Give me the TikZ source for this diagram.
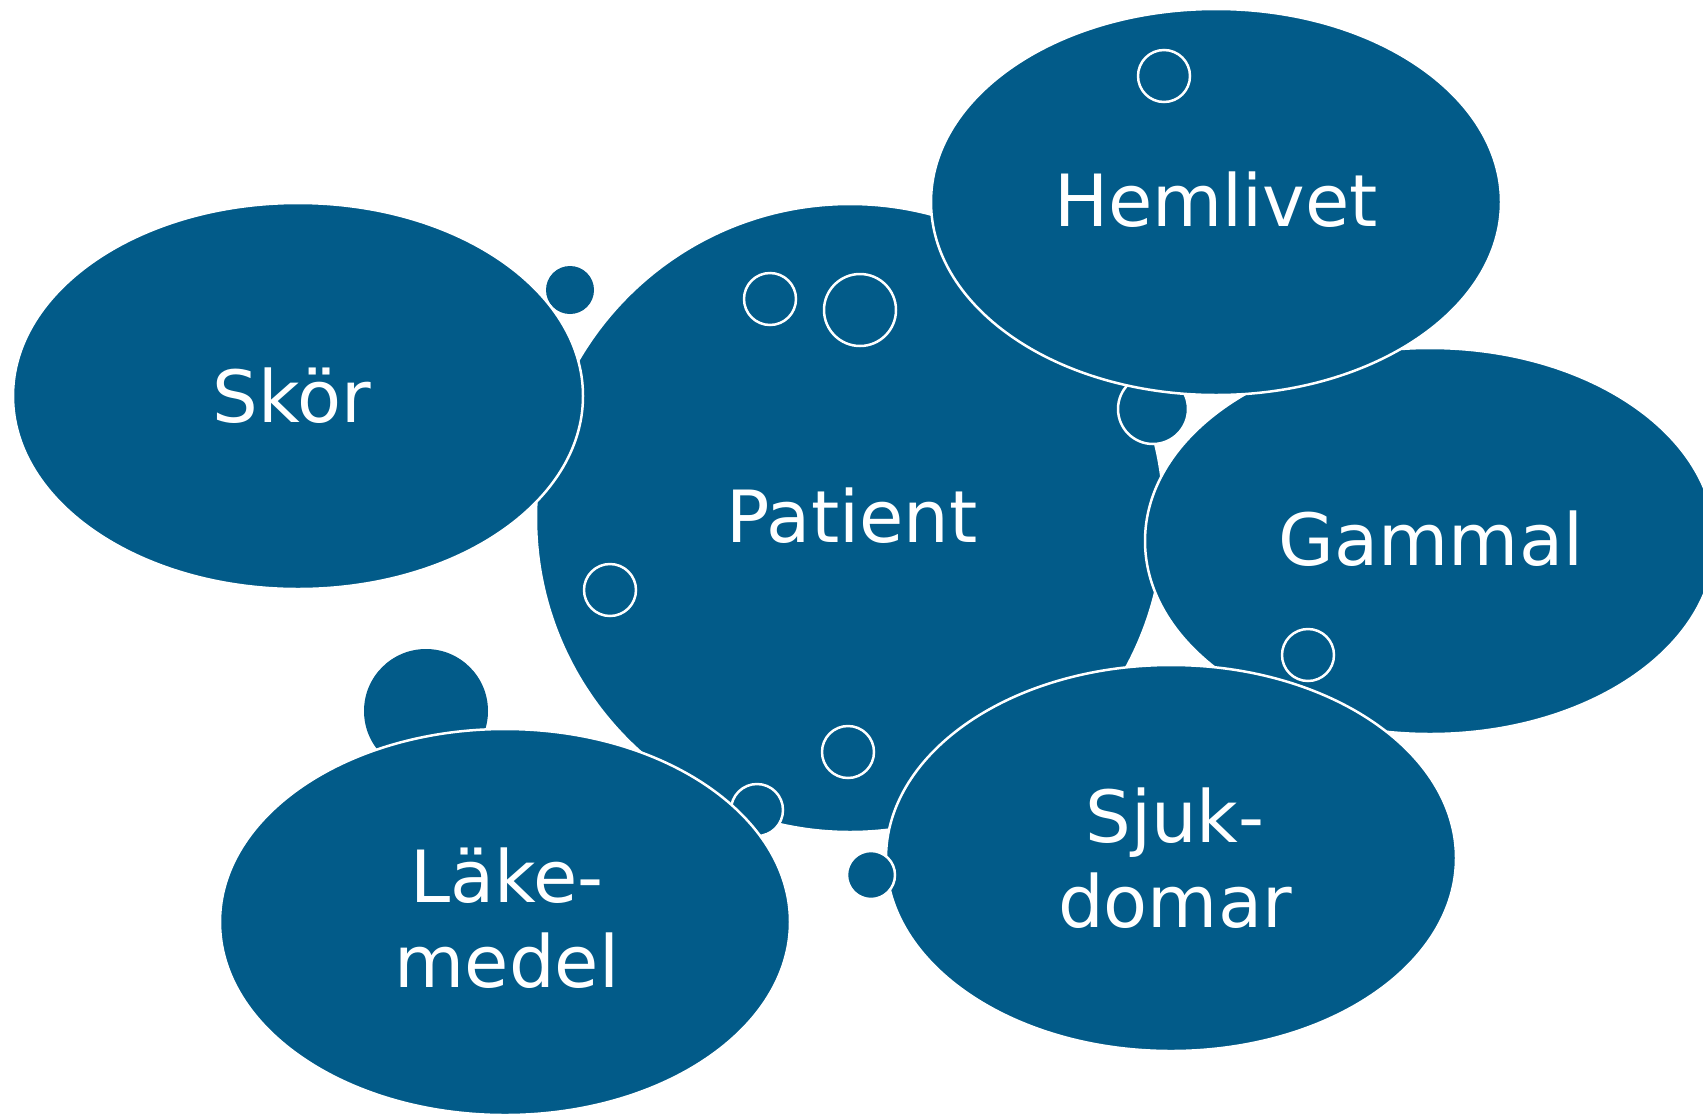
\documentclass[tikz,border=0pt]{standalone}
\usepackage{fontspec}
\setmainfont{DejaVu Sans}
\definecolor{blobblue}{RGB}{2,91,137}
\begin{document}
\begin{tikzpicture}[x=1pt,y=-1pt,
  blob/.style={fill=blobblue,draw=white,line width=2.5pt},
  dot/.style={fill=blobblue,draw=white,line width=2.5pt},
  plain/.style={fill=blobblue},
  lbl/.style={text=white,font=\fontsize{72}{85}\selectfont,inner sep=0pt,anchor=base,align=center}]
\useasboundingbox (0,0) rectangle (1703,1117);
\begin{scope}
\clip (0,0) rectangle (1703,1117);
% Patient
\draw[blob] (850,518) circle[radius=314];
\fill[plain] (570,290) circle[radius=24];
\fill[plain] (426,711) circle[radius=62];
\draw[dot] (770,299) circle[radius=26];
\draw[dot] (860,310) circle[radius=36];
\draw[dot] (610,590) circle[radius=26];
\draw[dot] (848,752) circle[radius=26];
\draw[dot] (757,810) circle[radius=26];
\draw[dot] (1153,409) circle[radius=35];
% Skor
\draw[blob] (298,396) ellipse[x radius=285,y radius=193];
% Gammal
\draw[blob] (1430,541) ellipse[x radius=285,y radius=193];
\draw[dot] (1308,655) circle[radius=26];
% Hemlivet
\draw[blob] (1216,202) ellipse[x radius=285,y radius=193];
\draw[dot] (1164,76) circle[radius=26];
% Sjukdomar
\draw[blob] (1171,858) ellipse[x radius=285,y radius=193];
\draw[dot] (871,875) circle[radius=24];
% Lakemedel
\draw[blob] (505,922) ellipse[x radius=285,y radius=193];
\end{scope}
\node[lbl] (patient) at (852,542) {Patient};
\node[lbl] (skor) at (292,422) {Skör};
\node[lbl] (hemlivet) at (1216,226) {Hemlivet};
\node[lbl] (gammal) at (1431,565) {Gammal};
\node[lbl] (lakemedel) at (507,987) {Läke-\\medel};
\node[lbl] (sjukdomar) at (1175,927) {Sjuk-\\domar};
\end{tikzpicture}
\end{document}
